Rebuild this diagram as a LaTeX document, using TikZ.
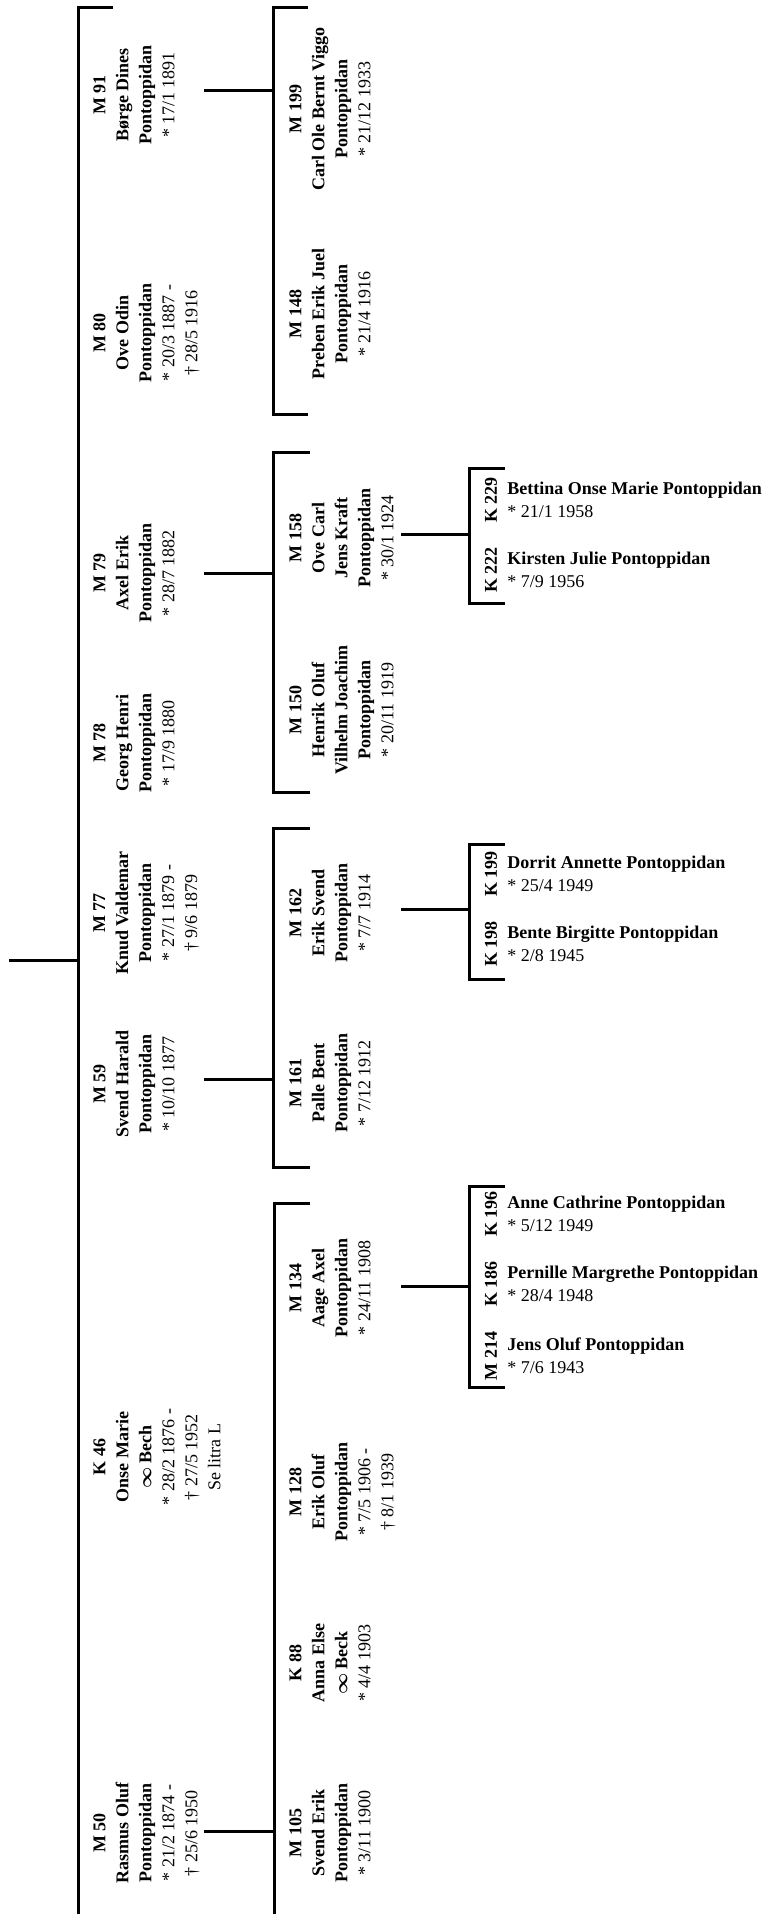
\documentclass[tikz,border=0pt]{standalone}
\usepackage{bm}
\usepackage{fontspec}
\setmainfont{Liberation Serif}
\usetikzlibrary{positioning}
\newcommand{\born}[1]{\textmd{* #1}}
\newcommand{\died}[1]{\textmd{\textdagger\ #1}}
\tikzset{
  person/.style={rotate=90,anchor=north,align=center,inner sep=0pt,font=\fontsize{9}{11.5}\selectfont\bfseries},
  child/.style={anchor=west,align=left,inner sep=0pt,font=\fontsize{9}{11.5}\selectfont\bfseries},
  tag/.style={rotate=90,inner sep=0pt,font=\fontsize{9}{11}\selectfont\bfseries},
  line/.style={line width=1.5pt}
}
\begin{document}
\begin{tikzpicture}[x=0.5pt,y=-0.5pt]
\useasboundingbox (0,0) rectangle (769,1914);
% first generation
\node[person] (m91) at (93,95) {M 91\\Børge Dines\\Pontoppidan\\\born{17/1 1891}};
\node[person] (m80) at (93,333) {M 80\\Ove Odin\\Pontoppidan\\\born{20/3 1887 -}\\\died{28/5 1916}};
\node[person] (m79) at (93,573) {M 79\\Axel Erik\\Pontoppidan\\\born{28/7 1882}};
\node[person] (m78) at (93,743) {M 78\\Georg Henri\\Pontoppidan\\\born{17/9 1880}};
\node[person] (m77) at (93,913) {M 77\\Knud Valdemar\\Pontoppidan\\\born{27/1 1879 -}\\\died{9/6 1879}};
\node[person] (m59) at (93,1084) {M 59\\Svend Harald\\Pontoppidan\\\born{10/10 1877}};
\node[person] (k46) at (93,1457) {K 46\\Onse Marie\\$\bm{\infty}$ Bech\\\born{28/2 1876 -}\\\died{27/5 1952}\\\textmd{Se litra L}};
\node[person] (m50) at (93,1833) {M 50\\Rasmus Oluf\\Pontoppidan\\\born{21/2 1874 -}\\\died{25/6 1950}};
% second generation
\node[person] (m199) at (289,109) {M 199\\Carl Ole Bernt Viggo\\Pontoppidan\\\born{21/12 1933}};
\node[person] (m148) at (289,314) {M 148\\Preben Erik Juel\\Pontoppidan\\\born{21/4 1916}};
\node[person] (m158) at (289,538) {M 158\\Ove Carl\\Jens Kraft\\Pontoppidan\\\born{30/1 1924}};
\node[person] (m150) at (289,710) {M 150\\Henrik Oluf\\Vilhelm Joachim\\Pontoppidan\\\born{20/11 1919}};
\node[person] (m162) at (289,913) {M 162\\Erik Svend\\Pontoppidan\\\born{7/7 1914}};
\node[person] (m161) at (289,1083) {M 161\\Palle Bent\\Pontoppidan\\\born{7/12 1912}};
\node[person] (m134) at (289,1288) {M 134\\Aage Axel\\Pontoppidan\\\born{24/11 1908}};
\node[person] (m128) at (289,1492) {M 128\\Erik Oluf\\Pontoppidan\\\born{7/5 1906 -}\\\died{8/1 1939}};
\node[person] (k88) at (289,1663) {K 88\\Anna Else\\$\bm{\infty}$ Beck\\\born{4/4 1903}};
\node[person] (m105) at (289,1833) {M 105\\Svend Erik\\Pontoppidan\\\born{3/11 1900}};
% third generation
\node[tag] (k229) at (491,500) {K 229};
\node[child] (n229) at (507,500) {Bettina Onse Marie Pontoppidan\\\born{21/1 1958}};
\node[tag] (k222) at (491,570) {K 222};
\node[child] (n222) at (507,570) {Kirsten Julie Pontoppidan\\\born{7/9 1956}};
\node[tag] (k199) at (491,874) {K 199};
\node[child] (n199) at (507,874) {Dorrit Annette Pontoppidan\\\born{25/4 1949}};
\node[tag] (k198) at (491,944) {K 198};
\node[child] (n198) at (507,944) {Bente Birgitte Pontoppidan\\\born{2/8 1945}};
\node[tag] (k196) at (491,1214) {K 196};
\node[child] (n196) at (507,1214) {Anne Cathrine Pontoppidan\\\born{5/12 1949}};
\node[tag] (k186) at (491,1284) {K 186};
\node[child] (n186) at (507,1284) {Pernille Margrethe Pontoppidan\\\born{28/4 1948}};
\node[tag] (m214) at (491,1356) {M 214};
\node[child] (n214) at (507,1356) {Jens Oluf Pontoppidan\\\born{7/6 1943}};
% brackets
\draw[line] (113,8) -- (78,8) -- (78,1914);
\coordinate (b1) at (78,960);
\draw[line] (308,8) -- (273,8) -- (273,415) -- (308,415);
\draw[line] (310,453) -- (273,453) -- (273,792) -- (310,792);
\draw[line] (310,828) -- (273,828) -- (273,1167) -- (310,1167);
\draw[line] (310,1203) -- (274,1203) -- (274,1914);
\coordinate (b2) at (274,0);
\draw[line] (505,469) -- (469,469) -- (469,603) -- (505,603);
\draw[line] (505,844) -- (469,844) -- (469,979) -- (505,979);
\draw[line] (505,1186) -- (469,1186) -- (469,1387) -- (505,1387);
\coordinate (b3) at (469,0);
% connectors
\coordinate (root) at (9,960);
\draw[line] (root) -- (b1);
\coordinate (m91r) at (204,91);
\coordinate (m79r) at (204,573);
\coordinate (m59r) at (204,1079);
\coordinate (m50r) at (204,1831);
\foreach \p in {m91r,m79r,m59r,m50r} \draw[line] (\p) -- (\p -| b2);
\coordinate (m158r) at (401,535);
\coordinate (m162r) at (401,909);
\coordinate (m134r) at (401,1286);
\foreach \p in {m158r,m162r,m134r} \draw[line] (\p) -- (\p -| b3);
\end{tikzpicture}
\end{document}
